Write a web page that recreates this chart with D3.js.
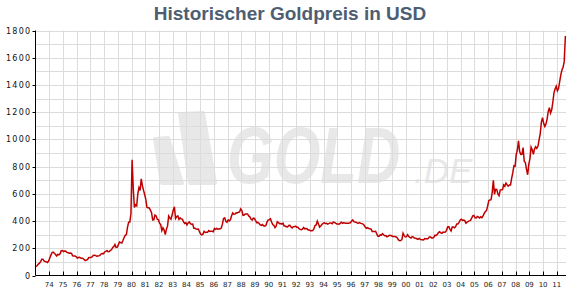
<!DOCTYPE html>
<html><head><meta charset="utf-8">
<script src="https://cdn.jsdelivr.net/npm/d3@7"></script>
<style>body{margin:0;background:#fff}svg{display:block}</style>
</head><body><svg id="c" width="580" height="300"></svg>
<script>
const chartTitle = "Historischer Goldpreis in USD";
const startYear = 1973;
const yTickValues = [0,200,400,600,800,1000,1200,1400,1600,1800];
const yGridValues = [100,200,300,400,500,600,700,800,900,1000,1100,1200,1300,1400,1500,1600,1700,1800];
const xTickYears = [1974,1975,1976,1977,1978,1979,1980,1981,1982,1983,1984,1985,1986,1987,1988,1989,1990,1991,1992,1993,1994,1995,1996,1997,1998,1999,2000,2001,2002,2003,2004,2005,2006,2007,2008,2009,2010,2011];
const xTickLabels = ["74","75","76","77","78","79","80","81","82","83","84","85","86","87","88","89","90","91","92","93","94","95","96","97","98","99","00","01","02","03","04","05","06","07","08","09","10","11"];

// monthly gold price (USD/oz), Jan 1973 onward
const prices1970s = [
 65,74,84,91,102,120,120,107,103,100,95,107,
 129,150,168,172,163,154,143,155,152,159,182,184,
 176,180,178,170,167,164,165,163,144,143,143,139,
 128,132,133,128,127,126,118,109,114,116,131,133,
 132,136,148,149,147,141,143,145,149,159,162,161,
 173,178,184,175,176,184,189,206,212,227,206,208,
 227,246,242,239,257,279,295,301,355,392,393,455];
const prices1980s = [
 850,640,500,520,512,600,645,625,710,660,625,595,
 557,500,498,496,480,461,409,410,444,438,413,410,
 384,374,330,350,334,300,339,364,437,423,414,444,
 481,505,419,433,438,412,423,416,412,394,382,388,
 371,386,394,381,377,378,348,348,341,340,341,320,
 303,299,304,325,316,317,317,330,324,325,325,322,
 345,339,346,340,342,343,349,377,419,424,398,391,
 408,401,409,439,460,450,451,461,460,465,467,490,
 478,442,444,452,452,452,438,431,414,407,421,419,
 404,388,390,384,371,368,375,365,362,367,392,409];
const prices1990s = [
 410,417,393,374,369,352,363,395,389,381,382,378,
 384,364,363,358,357,367,368,356,349,359,360,362,
 355,354,344,339,337,341,353,343,345,344,335,335,
 329,329,330,342,367,371,400,379,356,364,374,383,
 387,382,384,377,381,386,386,380,392,390,384,379,
 379,377,382,391,385,388,386,384,383,383,386,387,
 400,408,396,393,392,385,384,388,383,381,378,369,
 355,347,352,345,344,341,324,324,323,325,306,289,
 289,298,296,308,299,292,293,284,289,296,294,292,
 287,287,286,283,276,261,256,257,265,311,293,283];
const prices2000s = [
 285,300,286,280,275,286,282,275,274,270,266,272,
 266,262,263,261,272,270,268,272,283,283,276,276,
 282,296,294,303,315,321,313,310,319,317,319,332,
 357,359,341,328,356,356,351,360,379,379,390,408,
 414,405,407,403,384,392,398,401,405,421,439,442,
 424,423,434,429,422,431,425,438,456,470,477,510,
 550,555,557,611,700,596,634,633,598,586,628,630,
 631,665,655,679,667,656,665,665,713,755,806,803,
 890,922,990,910,889,890,940,839,830,780,740,816,
 859,943,924,890,929,946,934,949,997,1043,1127,1160];
const prices2010s = [
 1118,1095,1113,1149,1205,1233,1193,1216,1271,1342,1370,1391,
 1356,1373,1424,1474,1510,1529,1573,1760];

const allPrices = [].concat(prices1970s, prices1980s, prices1990s, prices2000s, prices2010s);
const data = allPrices.map((v, i) => ({ t: startYear + (i + 0.5) / 12, v }));

const svg = d3.select("#c");
const L = 35.5, R = 566, T = 30.5, B = 275.5;
const x = d3.scaleLinear().domain([1973, 2011.67]).range([L, R]);
const y = d3.scaleLinear().domain([0, 1800]).range([B, T]);

// watermark
const wm = svg.append("g").attr("fill", "#e8e8e8");
wm.append("path").attr("d", "M155,139 L168,138 L182,183 L162,183 Z").attr("stroke", "#e8e8e8").attr("stroke-width", 4).attr("stroke-linejoin", "round");
wm.append("path").attr("d", "M180,114 L203,113 L215,183 L190,183 Z").attr("stroke", "#e8e8e8").attr("stroke-width", 4).attr("stroke-linejoin", "round");
wm.append("text").attr("transform", "translate(227,183) scale(0.75,1)")
  .attr("font-family", "Liberation Sans, Arial, sans-serif").attr("font-style", "italic")
  .attr("font-weight", "bold").attr("font-size", 80).text("GOLD");
wm.append("text").attr("transform", "translate(414,183)")
  .attr("font-family", "Liberation Sans, Arial, sans-serif").attr("font-style", "italic")
  .attr("font-size", 35).text(".DE");

// grid
const grid = svg.append("g").attr("stroke", "#dcdcdc").attr("stroke-width", 1);
grid.selectAll("line.h").data(yGridValues).join("line").attr("class", "h")
  .attr("x1", L).attr("x2", R).attr("y1", d => Math.round(y(d)) + 0.5).attr("y2", d => Math.round(y(d)) + 0.5);
grid.selectAll("line.v").data(xTickYears).join("line").attr("class", "v")
  .attr("x1", d => Math.round(x(d)) + 0.5).attr("x2", d => Math.round(x(d)) + 0.5).attr("y1", T).attr("y2", B);

// line
const line = d3.line().x(d => x(d.t)).y(d => y(d.v));
svg.append("path").datum(data).attr("d", line).attr("fill", "none")
  .attr("stroke", "#c00000").attr("stroke-width", 1.5).attr("stroke-linejoin", "miter");

// axes
const ax = svg.append("g").attr("stroke", "#000").attr("stroke-width", 1);
ax.append("line").attr("x1", L).attr("x2", L).attr("y1", T).attr("y2", B);
ax.append("line").attr("x1", L).attr("x2", R).attr("y1", B).attr("y2", B);
ax.selectAll("line.yt").data(yTickValues).join("line").attr("class", "yt")
  .attr("x1", L - 3).attr("x2", L).attr("y1", d => Math.round(y(d)) + 0.5).attr("y2", d => Math.round(y(d)) + 0.5);
ax.selectAll("line.xt").data(xTickYears).join("line").attr("class", "xt")
  .attr("x1", d => Math.round(x(d)) + 0.5).attr("x2", d => Math.round(x(d)) + 0.5).attr("y1", B - 4).attr("y2", B);

svg.append("g").selectAll("text").data(yTickValues).join("text")
  .attr("x", 31.5).attr("y", d => y(d) + 3).attr("text-anchor", "end")
  .attr("font-family", "DejaVu Sans, Verdana, sans-serif").attr("font-size", 8).attr("letter-spacing", 1.3)
  .attr("fill", "#111").text(d => d);

svg.append("g").selectAll("text").data(xTickYears).join("text")
  .attr("x", (d) => x(d)).attr("y", 287).attr("text-anchor", "middle")
  .attr("font-family", "DejaVu Sans, Verdana, sans-serif").attr("font-size", 7)
  .attr("fill", "#222").text((d, i) => xTickLabels[i]);

svg.append("text").attr("x", 290).attr("y", 20).attr("text-anchor", "middle")
  .attr("font-family", "Liberation Sans, Arial, sans-serif").attr("font-weight", "bold").attr("font-size", 19)
  .attr("fill", "#4d5e72").text(chartTitle);
</script></body></html>
